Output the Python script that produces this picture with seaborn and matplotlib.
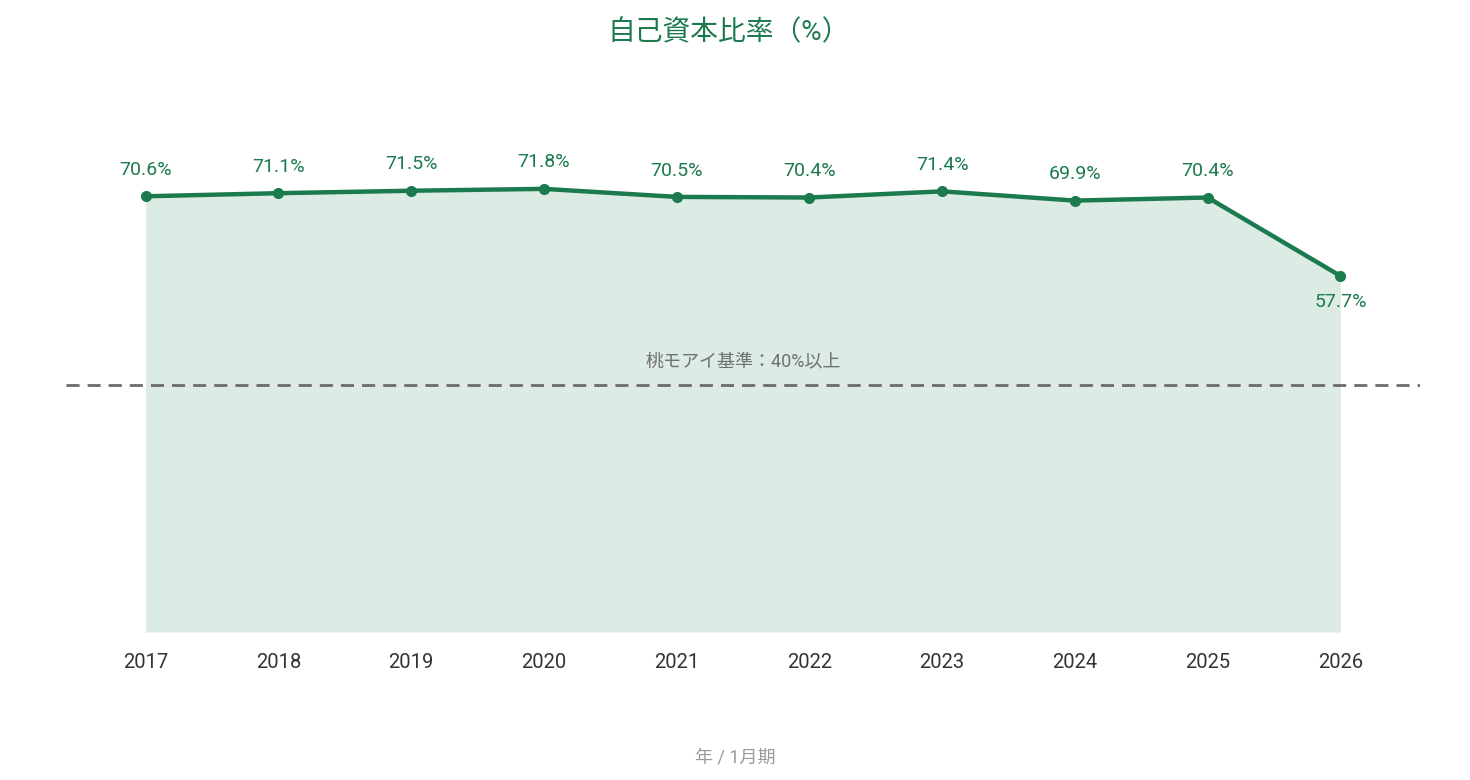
import matplotlib
matplotlib.use("Agg")
import pandas as pd
import seaborn as sns
import matplotlib.pyplot as plt

# data
years = [2017, 2018, 2019, 2020, 2021, 2022, 2023, 2024, 2025, 2026]
ratios = [70.6, 71.1, 71.5, 71.8, 70.5, 70.4, 71.4, 69.9, 70.4, 57.7]
threshold = 40
threshold_label = "桃モアイ基準：40%以上"
title = "自己資本比率（%）"
xlabel = "年 / 1月期"

df = pd.DataFrame({"year": years, "ratio": ratios})

green = "#1b7a4e"
fill_green = "#dcebe3"

sns.set_theme(style="white")
plt.rcParams["font.family"] = ["Roboto", "Noto Sans CJK JP", "DejaVu Sans"]

fig = plt.figure(figsize=(14.7, 7.8), dpi=100)
ax = fig.add_axes([66 / 1470, (780 - 632) / 780, (1420 - 66) / 1470, 532 / 780])

# area under the line
ax.fill_between(df["year"], df["ratio"], 0, color=fill_green, lw=0, zorder=1)

# threshold line
ax.axhline(threshold, color="#6b6b6b", lw=2, dashes=(4.7, 2.9), zorder=2)
ax.text((years[0] + years[-1]) / 2, threshold + 3.9, threshold_label,
        ha="center", va="center", fontsize=13, color="#707070")

sns.lineplot(data=df, x="year", y="ratio", ax=ax, color=green, lw=3.2,
             marker="o", markersize=8, markeredgewidth=0, zorder=3)

# value labels: above the point, except a drop which goes below
for i, (x, y) in enumerate(zip(years, ratios)):
    below = i > 0 and y < ratios[i - 1] - 5
    ax.annotate(f"{y}%", (x, y), xytext=(0, -19 if below else 19),
                textcoords="offset points", ha="center", va="center",
                fontsize=14, color=green)

ax.set_xlim(years[0] - 0.6, years[-1] + 0.6)
ax.set_ylim(0, 86.2)
ax.set_xticks(years)
ax.set_xticklabels([str(y) for y in years], fontsize=14.5, color="#333333")
ax.tick_params(axis="x", length=0, pad=15)
ax.set_yticks([])
ax.set_xlabel("")
ax.set_ylabel("")
sns.despine(ax=ax, left=True, bottom=True)

fig.text(729 / 1470, 1 - 33 / 780, title, ha="center", va="center",
         fontsize=20, color=green)
fig.text(735 / 1470, 1 - 757 / 780, xlabel, ha="center", va="center",
         fontsize=13, color="#9a9a9a")

fig.savefig("out.png", dpi=100)
